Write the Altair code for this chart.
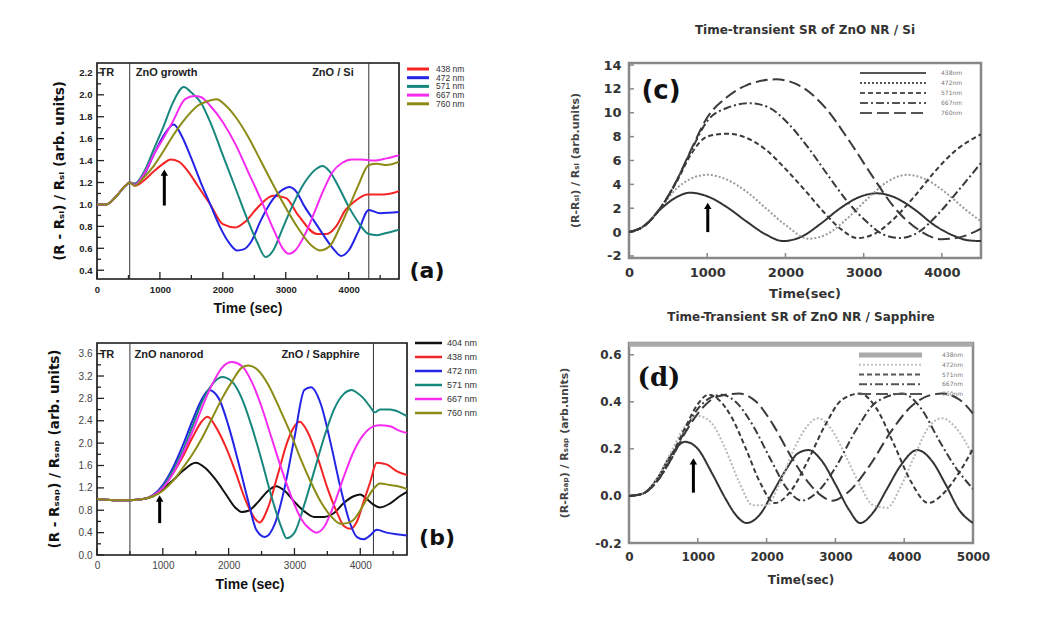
import altair as alt
import pandas as pd

# ================= panel (a): ZnO / Si, measured =================
A_LABELS = ["438 nm", "472 nm", "571 nm", "667 nm", "760 nm"]
A_COLORS = ["#f42424", "#2424e6", "#17877e", "#f52bf0", "#8b8b16"]
a438_t = [0, 150, 300, 450, 520, 600, 750, 900, 1050, 1170, 1300, 1450, 1600, 1800, 2000, 2200, 2350, 2550, 2800, 3000, 3200, 3500, 3650, 3800, 3950, 4100, 4300, 4550, 4800]
a438_v = [1.0, 1.0, 1.07, 1.17, 1.2, 1.17, 1.22, 1.3, 1.37, 1.41, 1.39, 1.3, 1.17, 1.0, 0.82, 0.79, 0.84, 0.97, 1.08, 1.06, 0.9, 0.73, 0.73, 0.8, 0.95, 1.03, 1.09, 1.09, 1.12]
a472_t = [0, 150, 300, 450, 520, 600, 750, 900, 1050, 1220, 1350, 1500, 1650, 1800, 1950, 2100, 2230, 2330, 2450, 2600, 2800, 3000, 3060, 3150, 3300, 3450, 3600, 3750, 3880, 4000, 4150, 4320, 4500, 4800]
a472_v = [1.0, 1.0, 1.07, 1.17, 1.2, 1.18, 1.27, 1.45, 1.62, 1.73, 1.62, 1.42, 1.2, 1.0, 0.8, 0.65, 0.58, 0.59, 0.66, 0.85, 1.05, 1.15, 1.16, 1.13, 0.98, 0.85, 0.72, 0.6, 0.53, 0.58, 0.75, 0.95, 0.92, 0.93]
a571_t = [0, 150, 300, 450, 520, 600, 750, 900, 1050, 1200, 1380, 1500, 1650, 1800, 2000, 2200, 2400, 2550, 2680, 2800, 2950, 3100, 3300, 3500, 3580, 3700, 3850, 4000, 4150, 4320, 4450, 4600, 4800]
a571_v = [1.0, 1.0, 1.07, 1.17, 1.2, 1.19, 1.3, 1.5, 1.7, 1.92, 2.07, 2.02, 1.93, 1.75, 1.45, 1.15, 0.85, 0.65, 0.52, 0.58, 0.78, 0.98, 1.2, 1.33, 1.35, 1.3, 1.15, 0.98, 0.84, 0.73, 0.72, 0.74, 0.77]
a667_t = [0, 150, 300, 450, 520, 600, 750, 900, 1050, 1200, 1400, 1550, 1650, 1800, 2000, 2200, 2400, 2600, 2800, 2950, 3050, 3150, 3300, 3450, 3600, 3750, 3900, 4050, 4200, 4400, 4600, 4800]
a667_v = [1.0, 1.0, 1.07, 1.17, 1.2, 1.18, 1.28, 1.45, 1.6, 1.75, 1.96, 1.99, 1.98, 1.9, 1.75, 1.55, 1.3, 1.05, 0.78, 0.6, 0.55, 0.58, 0.72, 0.92, 1.13, 1.3, 1.38, 1.41, 1.41, 1.4, 1.42, 1.45]
a760_t = [0, 150, 300, 450, 520, 600, 750, 900, 1050, 1200, 1400, 1600, 1750, 1900, 2050, 2200, 2400, 2600, 2800, 3000, 3200, 3400, 3550, 3700, 3850, 4000, 4150, 4320, 4450, 4600, 4800]
a760_v = [1.0, 1.0, 1.07, 1.17, 1.2, 1.17, 1.25, 1.35, 1.48, 1.62, 1.78, 1.9, 1.94, 1.96, 1.9, 1.8, 1.62, 1.4, 1.18, 0.97, 0.78, 0.63, 0.58, 0.62, 0.78, 0.97, 1.17, 1.36, 1.37, 1.36, 1.39]
A_VLINES = [520, 4320]
A_NOTE_TEXT = ["TR", "ZnO growth", "ZnO / Si"]
A_NOTE_T = [40, 615, 4080]
A_NOTE_V = [2.2, 2.2, 2.2]
A_NOTE_ALIGN = ["left", "left", "right"]
A_ARROW = {"t": [1070], "tail": [0.99], "tip": [1.29]}
A_XTICKS = [0, 1000, 2000, 3000, 4000]
A_XMINOR = [500, 1500, 2500, 3500, 4500]
A_YTICKS = [0.4, 0.6, 0.8, 1.0, 1.2, 1.4, 1.6, 1.8, 2.0, 2.2]
A_YMINOR = [0.5, 0.7, 0.9, 1.1, 1.3, 1.5, 1.7, 1.9, 2.1]

# ================= panel (b): ZnO / Sapphire, measured =================
B_LABELS = ["404 nm", "438 nm", "472 nm", "571 nm", "667 nm", "760 nm"]
B_COLORS = ["#111111", "#f42424", "#2424e6", "#17877e", "#f52bf0", "#8b8b16"]
b404_t = [0, 250, 500, 700, 850, 1000, 1150, 1300, 1500, 1650, 1800, 1950, 2100, 2200, 2300, 2450, 2600, 2720, 2850, 3000, 3150, 3300, 3450, 3600, 3750, 3900, 4000, 4100, 4200, 4300, 4450, 4600, 4710]
b404_v = [1.0, 0.98, 0.98, 1.0, 1.05, 1.18, 1.33, 1.5, 1.65, 1.55, 1.35, 1.1, 0.85, 0.77, 0.79, 0.95, 1.15, 1.23, 1.15, 0.95, 0.78, 0.68, 0.68, 0.75, 0.93, 1.05, 1.08, 1.0, 0.9, 0.85, 0.92, 1.05, 1.13]
b438_t = [0, 250, 500, 700, 850, 1000, 1150, 1300, 1450, 1600, 1680, 1800, 1950, 2100, 2250, 2400, 2470, 2600, 2750, 2900, 3000, 3080, 3200, 3350, 3500, 3650, 3750, 3850, 3950, 4050, 4150, 4250, 4400, 4550, 4710]
b438_v = [1.0, 0.98, 0.98, 1.0, 1.06, 1.22, 1.45, 1.75, 2.1, 2.4, 2.47, 2.3, 1.95, 1.5, 1.0, 0.65, 0.58, 0.85, 1.45, 2.05, 2.3, 2.38, 2.2, 1.75, 1.2, 0.75, 0.52, 0.47, 0.6, 0.95, 1.3, 1.65, 1.62, 1.5, 1.43]
b472_t = [0, 250, 500, 700, 850, 1000, 1150, 1300, 1450, 1600, 1700, 1850, 2000, 2150, 2300, 2420, 2550, 2700, 2850, 3000, 3150, 3250, 3400, 3550, 3700, 3850, 3950, 4050, 4150, 4250, 4400, 4550, 4710]
b472_v = [1.0, 0.98, 0.98, 1.0, 1.07, 1.25, 1.55, 1.95, 2.4, 2.8, 2.95, 2.8, 2.3, 1.65, 0.95, 0.45, 0.32, 0.55, 1.2, 2.1, 2.95, 3.0, 2.7, 2.0, 1.2, 0.55, 0.32, 0.28, 0.35, 0.45, 0.4, 0.37, 0.35]
b571_t = [0, 250, 500, 700, 850, 1000, 1150, 1300, 1450, 1600, 1750, 1900, 2050, 2200, 2350, 2500, 2650, 2800, 2880, 3000, 3150, 3300, 3450, 3600, 3750, 3870, 3950, 4050, 4150, 4220, 4300, 4450, 4600, 4710]
b571_v = [1.0, 0.98, 0.98, 1.0, 1.06, 1.22, 1.5, 1.85, 2.3, 2.75, 3.05, 3.18, 3.1, 2.8, 2.3, 1.7, 1.05, 0.5, 0.3, 0.4, 0.9, 1.5, 2.1, 2.6, 2.88, 2.95, 2.9, 2.8, 2.65, 2.55, 2.6, 2.6, 2.55, 2.48]
b667_t = [0, 250, 500, 700, 850, 1000, 1150, 1300, 1450, 1600, 1750, 1900, 2050, 2200, 2350, 2500, 2650, 2800, 2950, 3100, 3250, 3330, 3450, 3600, 3750, 3900, 4050, 4200, 4300, 4450, 4600, 4710]
b667_v = [1.0, 0.98, 0.98, 1.0, 1.06, 1.2, 1.45, 1.8, 2.2, 2.65, 3.05, 3.35, 3.45, 3.38, 3.1, 2.65, 2.1, 1.55, 1.05, 0.65, 0.45, 0.4, 0.5, 0.9, 1.4, 1.85, 2.15, 2.3, 2.32, 2.3, 2.22, 2.18]
b760_t = [0, 250, 500, 700, 850, 1000, 1150, 1300, 1450, 1600, 1750, 1900, 2050, 2200, 2300, 2450, 2600, 2800, 2950, 3100, 3250, 3400, 3550, 3700, 3800, 3900, 4000, 4100, 4200, 4300, 4450, 4600, 4710]
b760_v = [1.0, 0.98, 0.98, 1.0, 1.05, 1.15, 1.32, 1.55, 1.8, 2.1, 2.45, 2.8, 3.1, 3.35, 3.39, 3.3, 3.05, 2.55, 2.15, 1.7, 1.3, 0.95, 0.7, 0.56, 0.57, 0.63, 0.8, 1.0, 1.18, 1.28, 1.25, 1.22, 1.18]
B_VLINES = [500, 4200]
B_NOTE_TEXT = ["TR", "ZnO nanorod", "ZnO / Sapphire"]
B_NOTE_T = [40, 570, 3990]
B_NOTE_V = [3.58, 3.58, 3.58]
B_NOTE_ALIGN = ["left", "left", "right"]
B_ARROW = {"t": [952], "tail": [0.57], "tip": [1.01]}
B_XTICKS = [0, 1000, 2000, 3000, 4000]
B_XMINOR = [500, 1500, 2500, 3500, 4500]
B_YTICKS = [0.0, 0.4, 0.8, 1.2, 1.6, 2.0, 2.4, 2.8, 3.2, 3.6]
B_YMINOR = [0.2, 0.6, 1.0, 1.4, 1.8, 2.2, 2.6, 3.0, 3.4]

# ================= panel (c): simulated, ZnO NR / Si =================
C_LABELS = ["438nm", "472nm", "571nm", "667nm", "760nm"]
c438_t = [0, 200, 400, 600, 780, 1000, 1250, 1500, 1750, 1970, 2200, 2450, 2700, 2950, 3170, 3400, 3650, 3900, 4150, 4350, 4500]
c438_v = [0, 0.55, 1.9, 2.9, 3.3, 3.0, 2.1, 0.9, -0.2, -0.75, -0.4, 0.7, 2.0, 2.95, 3.25, 2.9, 1.9, 0.6, -0.3, -0.7, -0.75]
c472_t = [0, 200, 400, 600, 800, 1000, 1250, 1500, 1750, 2000, 2300, 2550, 2800, 3050, 3300, 3550, 3800, 4050, 4300, 4500]
c472_v = [0, 0.55, 2.0, 3.6, 4.5, 4.8, 4.4, 3.4, 2.0, 0.6, -0.55, -0.1, 1.2, 2.8, 4.2, 4.8, 4.4, 3.3, 1.9, 0.9]
c571_t = [0, 200, 400, 600, 800, 1000, 1250, 1500, 1750, 2000, 2250, 2500, 2700, 2920, 3150, 3400, 3650, 3900, 4150, 4500]
c571_v = [0, 0.55, 2.0, 4.1, 6.6, 8.0, 8.25, 7.9, 6.9, 5.3, 3.5, 1.6, 0.3, -0.5, -0.1, 1.2, 3.0, 5.0, 6.7, 8.2]
c667_t = [0, 200, 400, 600, 800, 1000, 1250, 1550, 1800, 2050, 2300, 2550, 2800, 3050, 3250, 3470, 3700, 3950, 4200, 4500]
c667_v = [0, 0.55, 2.0, 4.2, 6.9, 9.3, 10.4, 10.8, 10.4, 9.0, 7.0, 4.7, 2.5, 0.8, -0.2, -0.5, 0.0, 1.5, 3.4, 5.8]
c760_t = [0, 200, 400, 600, 800, 1000, 1250, 1500, 1880, 2200, 2500, 2800, 3100, 3400, 3700, 4000, 4250, 4500]
c760_v = [0, 0.55, 2.0, 4.2, 7.0, 9.6, 11.3, 12.3, 12.8, 12.2, 10.5, 7.8, 4.8, 2.0, 0.2, -0.6, -0.4, 0.3]
C_ARROW = {"t": [1007], "tail": [0.0], "tip": [2.2]}
C_XTICKS = [0, 1000, 2000, 3000, 4000]
C_YTICKS = [-2, 0, 2, 4, 6, 8, 10, 12, 14]

# ================= panel (d): simulated, ZnO NR / Sapphire =================
D_LABELS = ["438nm", "472nm", "571nm", "667nm", "760nm"]
d438_t = [0, 200, 400, 600, 815, 1000, 1200, 1400, 1550, 1710, 1900, 2100, 2300, 2450, 2610, 2800, 3000, 3200, 3360, 3550, 3750, 3950, 4190, 4400, 4600, 4800, 5000]
d438_v = [0, 0.01, 0.07, 0.17, 0.23, 0.2, 0.1, -0.01, -0.08, -0.115, -0.08, 0.02, 0.12, 0.18, 0.195, 0.15, 0.05, -0.06, -0.115, -0.07, 0.03, 0.13, 0.195, 0.15, 0.05, -0.06, -0.115]
d472_t = [0, 200, 400, 600, 800, 1000, 1200, 1400, 1600, 1800, 2000, 2200, 2400, 2600, 2750, 2950, 3150, 3350, 3550, 3750, 3950, 4150, 4350, 4550, 4750, 5000]
d472_v = [0, 0.01, 0.07, 0.18, 0.29, 0.34, 0.31, 0.2, 0.06, -0.04, -0.04, 0.06, 0.2, 0.3, 0.33, 0.28, 0.17, 0.05, -0.04, -0.05, 0.04, 0.17, 0.29, 0.33, 0.29, 0.17]
d571_t = [0, 200, 400, 600, 800, 1000, 1150, 1300, 1500, 1700, 1900, 2120, 2350, 2600, 2850, 3100, 3360, 3600, 3850, 4100, 4350, 4600, 4800, 5000]
d571_v = [0, 0.01, 0.06, 0.16, 0.28, 0.39, 0.43, 0.41, 0.33, 0.2, 0.06, -0.03, 0.02, 0.15, 0.3, 0.41, 0.435, 0.37, 0.22, 0.06, -0.03, 0.02, 0.1, 0.2]
d667_t = [0, 200, 400, 600, 800, 1000, 1200, 1350, 1550, 1800, 2050, 2300, 2510, 2750, 3000, 3300, 3600, 3970, 4250, 4500, 4750, 5000]
d667_v = [0, 0.01, 0.06, 0.15, 0.27, 0.37, 0.42, 0.43, 0.4, 0.3, 0.16, 0.03, -0.02, 0.02, 0.12, 0.28, 0.4, 0.435, 0.37, 0.24, 0.12, 0.03]
d760_t = [0, 200, 400, 600, 800, 1000, 1200, 1400, 1600, 1850, 2100, 2350, 2600, 2800, 2950, 3200, 3500, 3800, 4100, 4400, 4550, 4800, 5000]
d760_v = [0, 0.01, 0.06, 0.15, 0.26, 0.35, 0.41, 0.43, 0.435, 0.4, 0.3, 0.17, 0.06, 0.0, -0.02, 0.02, 0.13, 0.27, 0.38, 0.43, 0.435, 0.41, 0.35]
D_ARROW = {"t": [936], "tail": [0.014], "tip": [0.147]}
D_XTICKS = [0, 1000, 2000, 3000, 4000, 5000]
D_YTICKS = [-0.2, 0.0, 0.2, 0.4, 0.6]

# ---------------- styles ----------------
SIM_DASHES = [[1, 0], [2, 2], [5, 3], [8, 3, 2, 3], [12, 5]]
C_COLORS = ["#333333", "#9a9a9a", "#3a3a3a", "#3a3a3a", "#3a3a3a"]
D_COLORS = ["#333333", "#b8b8b8", "#3a3a3a", "#3a3a3a", "#3a3a3a"]
D_LEG_COLORS = ["#aaaaaa", "#c4c4c4", "#555555", "#555555", "#555555"]
D_LEG_WIDTHS = [5, 2, 2, 2, 2]

SANS = "Liberation Sans"
DV = "DejaVu Sans"


def mk_axes(xdom, ydom, xticks, yticks, yfmt, font, size, weight, color, pad=5):
    ax = alt.Axis(values=xticks, title=None, grid=False, domain=False, ticks=False,
                  labelFont=font, labelFontSize=size, labelFontWeight=weight, labelColor=color,
                  labelPadding=pad, labelFlush=False, labelOverlap=False, format="d")
    ay = alt.Axis(values=yticks, title=None, grid=False, domain=False, ticks=False,
                  labelFont=font, labelFontSize=size, labelFontWeight=weight, labelColor=color,
                  labelPadding=pad, format=yfmt, labelOverlap=False,
                  labelExpr="replace(datum.label, '\u2212', '-')")
    X = alt.X("t:Q", scale=alt.Scale(domain=xdom, nice=False, zero=False), axis=ax)
    Y = alt.Y("v:Q", scale=alt.Scale(domain=ydom, nice=False, zero=False), axis=ay)
    return X, Y


def inward_ticks(xvals, yvals, X, Y, H, size, color="#222222", thick=1.3):
    out = [alt.Chart(pd.DataFrame({"t": xvals})).mark_tick(orient="vertical", size=size, thickness=thick, color=color,
                                                          opacity=1).encode(x=X, y=alt.value(H - size / 2)),
           alt.Chart(pd.DataFrame({"v": yvals})).mark_tick(orient="horizontal", size=size, thickness=thick, color=color,
                                                          opacity=1).encode(y=Y, x=alt.value(size / 2))]
    return out


def line(t, v, X, Y, color, width=2, dash=None):
    kw = dict(color=color, strokeWidth=width, interpolate="monotone", clip=True)
    if dash is not None:
        kw["strokeDash"] = dash
    return alt.Chart(pd.DataFrame({"t": t, "v": v})).mark_line(**kw).encode(x=X, y=Y)


def ptext(txt, x, y, size, weight="normal", font=SANS, color="#222222", angle=0, align="center"):
    kw = dict(font=font, fontSize=size, fontWeight=weight, color=color, align=align, baseline="middle")
    if angle:
        kw["angle"] = angle
    return alt.Chart(pd.DataFrame({"s": [txt]})).mark_text(**kw).encode(
        x=alt.value(x), y=alt.value(y), text="s:N")


def hrule(x, x2, y, color, width):
    return alt.Chart(pd.DataFrame({"s": ["frame"]})).mark_rule(color=color, strokeWidth=width).encode(
        x=alt.value(x), x2=alt.value(x2), y=alt.value(y))


def legend(labels, colors, widths, dashes, x0, x1, tx, y0, dy, size, tcolor, font=SANS):
    out = []
    for i, lab in enumerate(labels):
        df = pd.DataFrame({"s": [lab]})
        y = y0 + i * dy
        kw = dict(color=colors[i], strokeWidth=widths[i])
        if dashes is not None:
            kw["strokeDash"] = dashes[i]
        out.append(alt.Chart(df).mark_rule(**kw).encode(x=alt.value(x0), x2=alt.value(x1), y=alt.value(y)))
        out.append(alt.Chart(df).mark_text(align="left", baseline="middle", font=font, fontSize=size,
                                           color=tcolor).encode(x=alt.value(tx), y=alt.value(y), text="s:N"))
    return out


def arrow(a, X, Y, width=3, head=55):
    df = pd.DataFrame({"t": a["t"], "v": a["tail"], "v2": a["tip"]})
    shaft = alt.Chart(df).mark_rule(color="black", strokeWidth=width).encode(x=X, y=Y, y2="v2:Q")
    hd = pd.DataFrame({"t": a["t"], "v": a["tip"]})
    tip = alt.Chart(hd).mark_point(shape="triangle-up", filled=True, size=head, color="black", opacity=1).encode(x=X, y=Y)
    return [shaft, tip]


def notes(texts, ts, vs, aligns, X, Y, size=11):
    out = []
    for s, t, v, al in zip(texts, ts, vs, aligns):
        df = pd.DataFrame({"t": [t], "v": [v], "s": [s]})
        out.append(alt.Chart(df).mark_text(align=al, baseline="middle", font=SANS, fontSize=size,
                                           fontWeight="bold", color="#222222").encode(x=X, y=Y, text="s:N"))
    return out


# ---------------- panel (a) ----------------
WA, HA = 302, 216
XA, YA = mk_axes([0, 4800], [0.32, 2.29], A_XTICKS, A_YTICKS, ".1f", SANS, 9.5, "bold", "#222222")
a_series = [(a438_t, a438_v), (a472_t, a472_v), (a571_t, a571_v), (a667_t, a667_v), (a760_t, a760_v)]
la = [alt.Chart(pd.DataFrame({"t": A_VLINES})).mark_rule(color="#333333", strokeWidth=1).encode(x=XA)]
la += inward_ticks(A_XTICKS, A_YTICKS, XA, YA, HA, 7) + inward_ticks(A_XMINOR, A_YMINOR, XA, YA, HA, 4)
la += [line(t, v, XA, YA, A_COLORS[i], 2) for i, (t, v) in enumerate(a_series)]
la += notes(A_NOTE_TEXT, A_NOTE_T, A_NOTE_V, A_NOTE_ALIGN, XA, YA)
la += arrow(A_ARROW, XA, YA)
la += legend(A_LABELS, A_COLORS, [3] * 5, None, 310, 332, 339, 6, 8.7, 8.5, "#333333")
la += [ptext("(a)", 330, 208, 22, "bold", DV, "#111111"),
       ptext("Time (sec)", 151, 246, 14, "bold", SANS, "#111111"),
       ptext("(R - R\u209b\u1d62) / R\u209b\u1d62 (arb. units)", -37, HA / 2, 13.5, "bold", DV, "#111111", angle=270)]
pa = alt.layer(*la).properties(width=WA, height=HA, view=alt.ViewBackground(stroke="#111111", strokeWidth=1.6))

# ---------------- panel (b) ----------------
WB, HB = 310, 212
XB, YB = mk_axes([0, 4710], [0, 3.79], B_XTICKS, B_YTICKS, ".1f", SANS, 10, "normal", "#444444")
b_series = [(b404_t, b404_v), (b438_t, b438_v), (b472_t, b472_v), (b571_t, b571_v), (b667_t, b667_v), (b760_t, b760_v)]
lb = [alt.Chart(pd.DataFrame({"t": B_VLINES})).mark_rule(color="#333333", strokeWidth=1).encode(x=XB)]
lb += inward_ticks(B_XTICKS, B_YTICKS, XB, YB, HB, 7) + inward_ticks(B_XMINOR, B_YMINOR, XB, YB, HB, 4)
lb += [line(t, v, XB, YB, B_COLORS[i], 2) for i, (t, v) in enumerate(b_series)]
lb += notes(B_NOTE_TEXT, B_NOTE_T, B_NOTE_V, B_NOTE_ALIGN, XB, YB)
lb += arrow(B_ARROW, XB, YB)
lb += legend(B_LABELS, B_COLORS, [2.5] * 6, None, 318, 345, 350, 0, 14, 9, "#333333")
lb += [ptext("(b)", 340, 195, 22, "bold", DV, "#111111"),
       ptext("Time (sec)", 153, 242, 14, "bold", SANS, "#111111"),
       ptext("(R - R\u209b\u2090\u209a) / R\u209b\u2090\u209a (arb. units)", -42, HB / 2, 13.5, "bold", DV, "#111111", angle=270)]
pb = alt.layer(*lb).properties(width=WB, height=HB, view=alt.ViewBackground(stroke="#111111", strokeWidth=1.6))

# ---------------- panel (c) ----------------
WC, HC = 352, 195
XC, YC = mk_axes([0, 4500], [-2.17, 14.17], C_XTICKS, C_YTICKS, "d", DV, 13, "bold", "#333333", pad=8)
c_series = [(c438_t, c438_v), (c472_t, c472_v), (c571_t, c571_v), (c667_t, c667_v), (c760_t, c760_v)]
lc = inward_ticks(C_XTICKS, C_YTICKS, XC, YC, HC, 5, "#888888", 1.5)
lc += [line(t, v, XC, YC, C_COLORS[i], 2, SIM_DASHES[i]) for i, (t, v) in enumerate(c_series)]
lc += arrow(C_ARROW, XC, YC)
lc += legend(C_LABELS, ["#555555"] * 5, [2] * 5, SIM_DASHES, 231, 297, 312, 10, 10, 6, "#777777", DV)
lc += [ptext("(c)", 32, 28, 26, "bold", DV, "#111111"),
       ptext("Time-transient SR of ZnO NR / Si", WC / 2, -33, 12, "bold", DV, "#333333"),
       ptext("Time(sec)", WC / 2, 231, 13, "bold", DV, "#333333"),
       ptext("(R-R\u209b\u1d62) / R\u209b\u1d62 (arb.units)", -53, HC / 2, 11, "bold", DV, "#444444", angle=270)]
pc = alt.layer(*lc).properties(width=WC, height=HC, view=alt.ViewBackground(stroke="#888888", strokeWidth=2.5))

# ---------------- panel (d) ----------------
WD, HD = 344, 200
XD, YD = mk_axes([0, 5000], [-0.2, 0.65], D_XTICKS, D_YTICKS, ".1f", DV, 12, "bold", "#333333", pad=8)
d_series = [(d438_t, d438_v), (d472_t, d472_v), (d571_t, d571_v), (d667_t, d667_v), (d760_t, d760_v)]
ld = [hrule(0, WD, 1.5, "#aaaaaa", 4.5)]
ld += inward_ticks(D_XTICKS, D_YTICKS, XD, YD, HD, 5, "#888888", 1.5)
ld += [line(t, v, XD, YD, D_COLORS[i], 2, SIM_DASHES[i]) for i, (t, v) in enumerate(d_series)]
ld += arrow(D_ARROW, XD, YD)
ld += legend(D_LABELS, D_LEG_COLORS, D_LEG_WIDTHS, SIM_DASHES, 230, 293, 313, 12, 9.75, 6, "#777777", DV)
ld += [ptext("(d)", 30, 35, 26, "bold", "DejaVu Serif", "#111111"),
       ptext("Time-Transient SR of ZnO NR / Sapphire", WD / 2, -26, 12, "bold", DV, "#333333"),
       ptext("Time(sec)", WD / 2, 237, 12, "bold", DV, "#333333"),
       ptext("(R-R\u209b\u2090\u209a) / R\u209b\u2090\u209a (arb.units)", -64, HD / 2, 11, "bold", DV, "#444444", angle=270)]
pd_ = alt.layer(*ld).properties(width=WD, height=HD, view=alt.ViewBackground(stroke="#8a8a8a", strokeWidth=2.5))

chart = alt.ConcatChart(
    concat=[pa, pc, pb, pd_], columns=2, spacing={"row": 64, "column": 180},
    bounds="flush", align="all",
    padding={"left": 39, "top": 14, "right": 5, "bottom": 5},
    background="white",
).resolve_scale(x="independent", y="independent")

chart.save("out.html", embed_options={"renderer": "svg", "actions": False})
